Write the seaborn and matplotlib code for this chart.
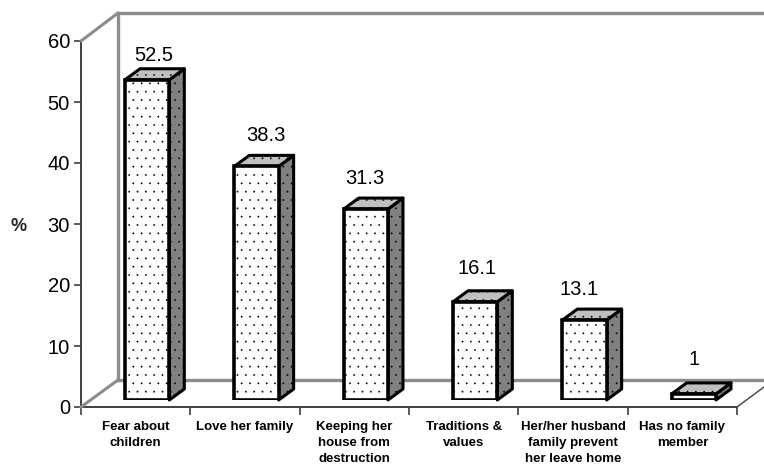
import matplotlib
matplotlib.use('Agg')
import matplotlib.pyplot as plt
from matplotlib.lines import Line2D
from matplotlib.patches import Polygon
from matplotlib.transforms import IdentityTransform
import pandas as pd
import seaborn as sns

categories = [
    'Fear about\nchildren',
    'Love her family',
    'Keeping her\nhouse from\ndestruction',
    'Traditions &\nvalues',
    'Her/her husband\nfamily prevent\nher leave home',
    'Has no family\nmember',
]
values = [52.5, 38.3, 31.3, 16.1, 13.1, 1]
y_ticks = [0, 10, 20, 30, 40, 50, 60]

# hand placed value labels, pixels from the top middle of each bar
label_dx = [7, 9, -1, 2, -5, 0]
label_dy = [24, 31, 31, 33, 31, 34]

W, H = 764, 468

sns.set_theme(style='white')
plt.rcParams['font.family'] = ['Liberation Sans', 'DejaVu Sans']
plt.rcParams['hatch.linewidth'] = 0.1

fig = plt.figure(figsize=(W / 100, H / 100), dpi=100, facecolor='white')


# axes placed by pixel position, y counted from the top like the picture
def px_axes(left, top, bottom, width=656):
    ax = fig.add_axes([left / W, 1 - bottom / H, width / W, (bottom - top) / H])
    ax.patch.set_alpha(0)
    return ax


# back wall
back = px_axes(118, 13, 380)
back.set_xticks([])
back.set_yticks([])
for side in back.spines:
    back.spines[side].set_color('#8c8c8c')
    back.spines[side].set_linewidth(2.4)
back.spines['right'].set_visible(False)

# front axes with ticks and labels
front = px_axes(81, 41, 407)
front.set_xlim(-0.5, 5.5)
front.set_ylim(0, 60)
front.set_yticks(y_ticks)
front.tick_params(axis='y', length=5, width=1.2, color='#404040', labelsize=14.5, pad=3,
                  left=True, labelcolor='black')
front.set_xticks(range(len(categories)), categories)
front.tick_params(axis='x', which='major', length=0, pad=10, labelsize=9.5)
front.set_xticks([i - 0.5 for i in range(len(categories) + 1)], minor=True)
front.tick_params(axis='x', which='minor', length=6, width=1.2, color='#404040', bottom=True)
for label in front.get_xticklabels():
    label.set_fontweight('bold')
    label.set_linespacing(1.45)
    label.set_color('black')
front.spines['top'].set_visible(False)
front.spines['right'].set_visible(False)
for side in ['left', 'bottom']:
    front.spines[side].set_color('#404040')
    front.spines[side].set_linewidth(1.4)

fig.text(19 / W, 1 - 226 / H, '%', fontsize=13, fontweight='bold', ha='center', va='center')

# floor and wall joints
joints = [
    ([81, 118], [41, 13], '#8c8c8c', 2.2),
    ([81, 118], [407, 380], '#8c8c8c', 2.2),
    ([737, 764], [407, 387], '#404040', 1.0),
]
for xs, ys, col, lw in joints:
    fig.add_artist(Line2D([x / W for x in xs], [1 - y / H for y in ys],
                          color=col, linewidth=lw, transform=fig.transFigure))

# bars sit a little behind the front axes
df = pd.DataFrame({'category': categories, 'value': values})
bars = px_axes(92.5, 34, 400)
sns.barplot(
    data=df, x='category', y='value', order=categories, ax=bars,
    color='white', saturation=1, width=0.405,
    edgecolor='black', linewidth=2.6, hatch='..', zorder=3
)
bars.set_xlim(-0.5, 5.5)
bars.set_ylim(0, 60)
bars.axis('off')

depth_x, depth_y = 15, 11
for patch, val, dx, dy in zip(bars.patches, values, label_dx, label_dy):
    (x0, y0), (x1, y1) = bars.transData.transform(
        [(patch.get_x(), 0), (patch.get_x() + patch.get_width(), val)]
    )
    side = [(x1, y0), (x1 + depth_x, y0 + depth_y), (x1 + depth_x, y1 + depth_y), (x1, y1)]
    top = [(x0, y1), (x0 + depth_x, y1 + depth_y), (x1 + depth_x, y1 + depth_y), (x1, y1)]
    for pts, col in [(side, '#808080'), (top, '#c0c0c0')]:
        bars.add_patch(Polygon(pts, closed=True, facecolor=col, edgecolor='black',
                               linewidth=2.2, hatch='..', joinstyle='round',
                               transform=IdentityTransform(), clip_on=False, zorder=2))
    bars.annotate(f'{val:g}', xy=(patch.get_x() + patch.get_width() / 2, val),
                  xytext=(dx, dy), textcoords='offset pixels',
                  ha='center', va='center', fontsize=14.5, color='black')

fig.savefig('out.png', dpi=100)
